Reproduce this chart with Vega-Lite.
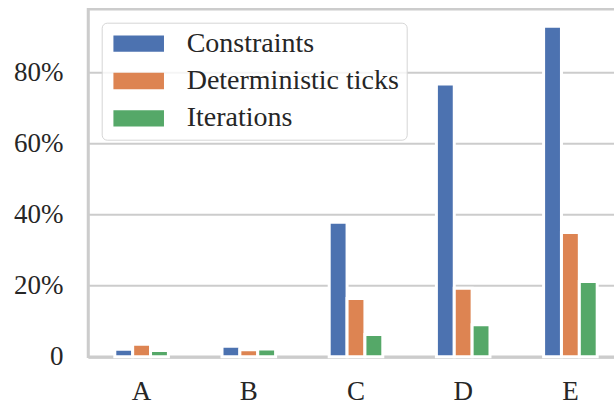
{
  "$schema": "https://vega.github.io/schema/vega-lite/v6.json",
  "autosize": {"type": "none"},
  "padding": {"left": 88, "top": 9.3, "right": 0, "bottom": 50},
  "width": 536,
  "height": 347.5,
  "background": "white",
  "config": {
    "font": "Liberation Serif, DejaVu Serif, serif",
    "view": {"stroke": "#cccccc", "strokeWidth": 2.5},
    "axis": {"labelFont": "Liberation Serif, DejaVu Serif, serif", "labelColor": "#262626", "labelFontSize": 27, "domainColor": "#cccccc", "domainWidth": 2.5, "ticks": false, "tickSize": 0, "zindex": 1},
    "legend": {"labelFont": "Liberation Serif, DejaVu Serif, serif", "labelColor": "#262626", "labelFontSize": 28, "labelLimit": 500}
  },
  "data": {
    "values": [
      {"cat": "A", "series": "Constraints", "value": 2.1},
      {"cat": "A", "series": "Deterministic ticks", "value": 3.5},
      {"cat": "A", "series": "Iterations", "value": 1.8},
      {"cat": "B", "series": "Constraints", "value": 3.0},
      {"cat": "B", "series": "Deterministic ticks", "value": 2.0},
      {"cat": "B", "series": "Iterations", "value": 2.2},
      {"cat": "C", "series": "Constraints", "value": 37.9},
      {"cat": "C", "series": "Deterministic ticks", "value": 16.4},
      {"cat": "C", "series": "Iterations", "value": 6.3},
      {"cat": "D", "series": "Constraints", "value": 76.8},
      {"cat": "D", "series": "Deterministic ticks", "value": 19.3},
      {"cat": "D", "series": "Iterations", "value": 9.0},
      {"cat": "E", "series": "Constraints", "value": 93.0},
      {"cat": "E", "series": "Deterministic ticks", "value": 35.0},
      {"cat": "E", "series": "Iterations", "value": 21.2}
    ]
  },
  "mark": {"type": "bar", "stroke": "white", "strokeWidth": 3},
  "encoding": {
    "x": {
      "field": "cat", "type": "nominal",
      "scale": {"paddingInner": 0.5, "paddingOuter": 0.25},
      "axis": {"title": null, "labelAngle": 0, "labelPadding": 22, "grid": false, "domain": true}
    },
    "xOffset": {"field": "series", "type": "nominal", "scale": {"paddingInner": 0, "paddingOuter": 0}},
    "y": {
      "field": "value", "type": "quantitative",
      "scale": {"domain": [0, 97.8], "nice": false, "zero": true},
      "axis": {"title": null, "values": [0, 20, 40, 60, 80], "labelExpr": "datum.value == 0 ? '0' : datum.value + '%'", "labelPadding": 25, "grid": true, "gridColor": "#cccccc", "gridWidth": 2, "domain": true}
    },
    "color": {
      "field": "series", "type": "nominal",
      "scale": {"domain": ["Constraints", "Deterministic ticks", "Iterations"], "range": ["#4c72b0", "#dd8452", "#55a868"]},
      "legend": {
        "title": null,
        "orient": "none",
        "legendX": 13.7,
        "legendY": 13.4,
        "padding": 7,
        "rowPadding": 9.3,
        "symbolType": "M-3.1,-1L3.1,-1L3.1,1L-3.1,1Z",
        "symbolSize": 266,
        "symbolStrokeWidth": 0,
        "symbolOpacity": 1,
        "symbolOffset": 16,
        "labelOffset": 34,
        "labelLimit": 500,
        "fillColor": "rgba(255,255,255,0.8)",
        "strokeColor": "#d5d5d5",
        "cornerRadius": 5,
        "encode": {"legend": {"update": {"strokeWidth": {"value": 2}}}}
      }
    }
  }
}
